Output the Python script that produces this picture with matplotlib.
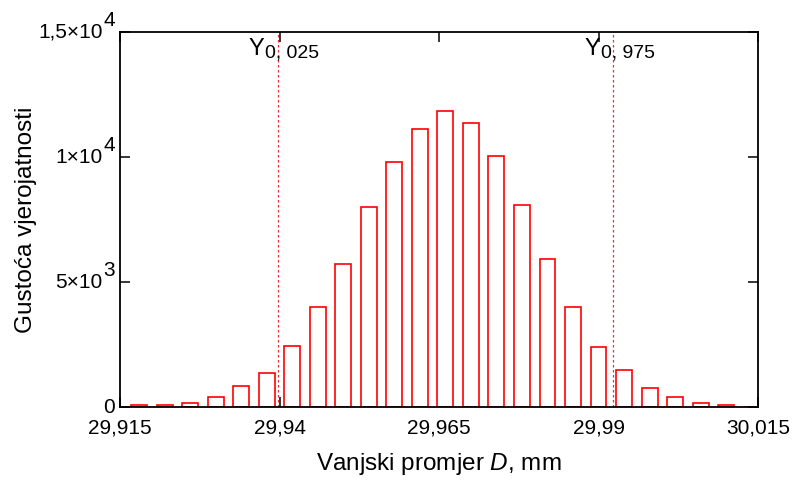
import matplotlib.pyplot as plt
from matplotlib.transforms import blended_transform_factory

plt.rcParams["font.family"] = ["Liberation Sans", "DejaVu Sans"]
plt.rcParams["mathtext.fontset"] = "custom"
plt.rcParams["mathtext.rm"] = "Liberation Sans"
plt.rcParams["mathtext.it"] = "Liberation Sans:italic"

# bin centres (mm) and probability density values
bin_centers = [29.918, 29.922, 29.926, 29.930, 29.934, 29.938, 29.942, 29.946,
               29.950, 29.954, 29.958, 29.962, 29.966, 29.970, 29.974, 29.978,
               29.982, 29.986, 29.990, 29.994, 29.998, 30.002, 30.006, 30.010,
               30.014]
density = [100, 100, 150, 400, 830, 1350, 2440, 4000,
           5720, 8000, 9810, 11130, 11850, 11350, 10040, 8070,
           5920, 4010, 2390, 1470, 760, 400, 150, 100,
           0]
bin_width = 0.0025

quantile_pos = [29.9397, 29.9923]
quantile_sub = ["0, 025", "0, 975"]

x_ticks = [29.915, 29.94, 29.965, 29.99, 30.015]
x_tick_labels = ["29,915", "29,94", "29,965", "29,99", "30,015"]
y_ticks = [0, 5000, 10000, 15000]
y_tick_main = ["0", "5×10", "1×10", "1,5×10"]
y_tick_exp = ["", "3", "4", "4"]

fig = plt.figure(figsize=(7.98, 4.82), dpi=100)
ax = fig.add_axes([0.1504, 0.1556, 0.7995, 0.778])

ax.bar(bin_centers, density, width=bin_width, facecolor="white",
       edgecolor="#ff0000", linewidth=1.2, zorder=2)

for xq in quantile_pos:
    ax.axvline(xq, color="#e8303a", linestyle=(0, (2, 2)), linewidth=0.9, zorder=1)

ax.set_xlim(29.915, 30.015)
ax.set_ylim(0, 15000)

ax.set_xticks(x_ticks)
ax.set_xticklabels(x_tick_labels, fontsize=15)
ax.set_yticks(y_ticks)
ax.set_yticklabels([])
ax.tick_params(direction="in", length=7, width=1.1, top=True, right=True,
               color="black")
ax.tick_params(axis="x", pad=8)

# y tick labels with full size exponents
trans = blended_transform_factory(ax.transAxes, ax.transData)
for val, main, ex in zip(y_ticks, y_tick_main, y_tick_exp):
    if ex:
        ax.annotate(main, xy=(0, val), xycoords=trans, xytext=(-12.5, 0),
                    textcoords="offset points", ha="right", va="center",
                    fontsize=15)
        ax.annotate(ex, xy=(0, val), xycoords=trans, xytext=(-3.5, 8),
                    textcoords="offset points", ha="right", va="center",
                    fontsize=15)
    else:
        ax.annotate(main, xy=(0, val), xycoords=trans, xytext=(-3.5, 0),
                    textcoords="offset points", ha="right", va="center",
                    fontsize=15)

# quantile labels
for xq, sub in zip(quantile_pos, quantile_sub):
    ax.annotate("Y", xy=(xq, 15000), xycoords="data", xytext=(-9.5, -4),
                textcoords="offset points", ha="right", va="top", fontsize=17)
    ax.annotate(sub, xy=(xq, 15000), xycoords="data", xytext=(-9, -9),
                textcoords="offset points", ha="left", va="top", fontsize=14)

for sp in ax.spines.values():
    sp.set_linewidth(1.3)

ax.set_xlabel("Vanjski promjer $\\mathit{D}$, mm", fontsize=17.5, labelpad=10)
ax.set_ylabel("Gustoća vjerojatnosti", fontsize=17.5, labelpad=56)

fig.savefig("out.png", dpi=100)
